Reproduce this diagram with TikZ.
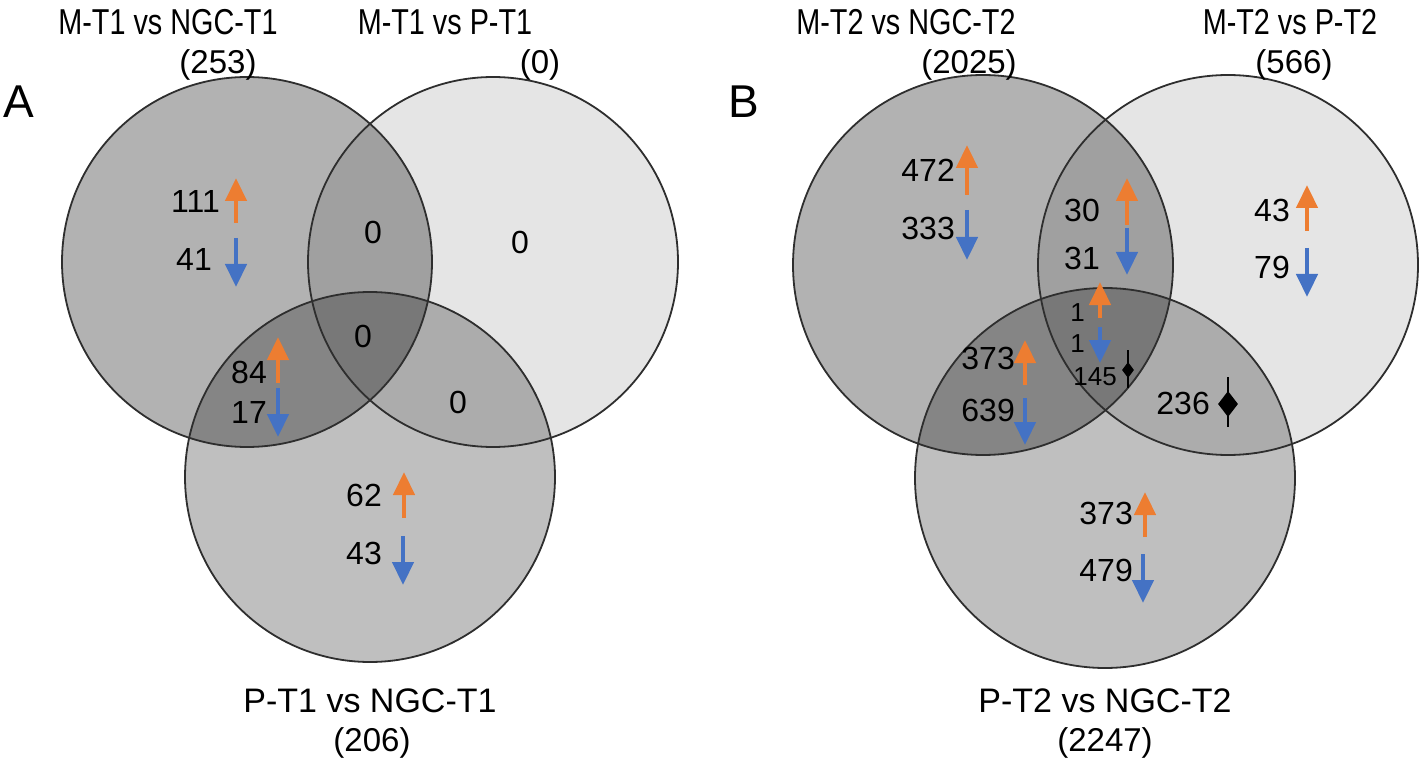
\documentclass[tikz,border=0pt]{standalone}
\usepackage{fontspec}
\setmainfont{Liberation Sans}
\newfontfamily\narrowsans[FakeStretch=0.8]{Liberation Sans}
\usetikzlibrary{arrows.meta,shapes.geometric}
\definecolor{upc}{HTML}{ED7D31}
\definecolor{dnc}{HTML}{4472C4}
\definecolor{ringc}{HTML}{2E2E2E}
\begin{document}
\begin{tikzpicture}[x=1pt,y=-1pt,
  lbl/.style={font=\fontsize{32}{34}\selectfont, inner sep=0pt, anchor=east},
  sml/.style={font=\fontsize{26}{28}\selectfont, inner sep=0pt, anchor=east},
  ttl/.style={font=\narrowsans\fontsize{36}{38}\selectfont, inner sep=0pt, anchor=base},
  cnt/.style={font=\fontsize{33}{35}\selectfont, inner sep=0pt, anchor=base},
  btl/.style={font=\fontsize{34}{36}\selectfont, inner sep=0pt, anchor=base},
  panel/.style={font=\fontsize{46}{48}\selectfont, inner sep=0pt, anchor=base west},
  zero/.style={font=\fontsize{32}{34}\selectfont, inner sep=0pt},
  uparrow/.style={draw=upc, line width=4.5pt, -{Triangle[width=21pt,length=23pt]}},
  dnarrow/.style={draw=dnc, line width=4.5pt, -{Triangle[width=21pt,length=23pt]}},
  ring/.style={draw=ringc, line width=1.8pt},
  venn/.style={circle, fill=black, inner sep=0pt},
  dmd/.style={diamond, fill=black, inner sep=0pt},
]
\useasboundingbox (0,0) rectangle (1421,759);

% ---------- Panel A ----------
\node[venn, fill opacity=0.30, minimum size=370pt] (a1) at (247,262) {};
\node[venn, fill opacity=0.10, minimum size=370pt] (a2) at (493,262) {};
\node[venn, fill opacity=0.25, minimum size=370pt] (a3) at (370,477) {};
\draw[ring] (a1.center) circle[radius=185];
\draw[ring] (a2.center) circle[radius=185];
\draw[ring] (a3.center) circle[radius=185];

\node[panel] (pA) at (3,118) {A};
\node[ttl] (ta1) at (168,35) {M-T1 vs NGC-T1};
\node[cnt] (na1) at (218,74) {(253)};
\node[ttl] (ta2) at (445,35) {M-T1 vs P-T1};
\node[cnt] (na2) at (540,74) {(0)};
\node[btl] (ta3) at (370,712) {P-T1 vs NGC-T1};
\node[cnt] (na3) at (372,751) {(206)};

\node[lbl] (v111) at (220,201) {111};
\node[lbl] (v41) at (212,259) {41};
\coordinate (au1s) at (236,223); \coordinate (au1e) at (236,178);
\coordinate (ad1s) at (236,238); \coordinate (ad1e) at (236,287);
\draw[uparrow] (au1s) -- (au1e);
\draw[dnarrow] (ad1s) -- (ad1e);

\node[zero] (z12) at (373,232) {0};
\node[zero] (z2) at (520,242) {0};
\node[zero] (z123) at (363,336) {0};
\node[zero] (z23) at (458,402) {0};

\node[lbl] (v84) at (267,372) {84};
\node[lbl] (v17) at (267,412) {17};
\coordinate (au2s) at (278,383); \coordinate (au2e) at (278,337);
\coordinate (ad2s) at (278,388); \coordinate (ad2e) at (278,437);
\draw[uparrow] (au2s) -- (au2e);
\draw[dnarrow] (ad2s) -- (ad2e);

\node[lbl] (v62) at (382,495) {62};
\node[lbl] (v43) at (382,553) {43};
\coordinate (au3s) at (404,518); \coordinate (au3e) at (404,472);
\coordinate (ad3s) at (403,536); \coordinate (ad3e) at (403,585);
\draw[uparrow] (au3s) -- (au3e);
\draw[dnarrow] (ad3s) -- (ad3e);

% ---------- Panel B ----------
\node[venn, fill opacity=0.30, minimum size=380pt] (b1) at (983,265) {};
\node[venn, fill opacity=0.10, minimum size=380pt] (b2) at (1228,265) {};
\node[venn, fill opacity=0.25, minimum size=380pt] (b3) at (1105,478) {};
\draw[ring] (b1.center) circle[radius=190];
\draw[ring] (b2.center) circle[radius=190];
\draw[ring] (b3.center) circle[radius=190];

\node[panel] (pB) at (728,118) {B};
\node[ttl] (tb1) at (906,35) {M-T2 vs NGC-T2};
\node[cnt] (nb1) at (969,74) {(2025)};
\node[ttl] (tb2) at (1290,35) {M-T2 vs P-T2};
\node[cnt] (nb2) at (1294,74) {(566)};
\node[btl] (tb3) at (1105,712) {P-T2 vs NGC-T2};
\node[cnt] (nb3) at (1105,751) {(2247)};

\node[lbl] (w472) at (955,170) {472};
\node[lbl] (w333) at (955,228) {333};
\coordinate (bu1s) at (967,195); \coordinate (bu1e) at (967,145);
\coordinate (bd1s) at (967,210); \coordinate (bd1e) at (967,260);
\draw[uparrow] (bu1s) -- (bu1e);
\draw[dnarrow] (bd1s) -- (bd1e);

\node[lbl] (w30) at (1100,210) {30};
\node[lbl] (w31) at (1100,258) {31};
\coordinate (bu2s) at (1127,225); \coordinate (bu2e) at (1127,178);
\coordinate (bd2s) at (1127,228); \coordinate (bd2e) at (1127,275);
\draw[uparrow] (bu2s) -- (bu2e);
\draw[dnarrow] (bd2s) -- (bd2e);

\node[lbl] (w43) at (1290,210) {43};
\node[lbl] (w79) at (1290,267) {79};
\coordinate (bu3s) at (1307,231); \coordinate (bu3e) at (1307,185);
\coordinate (bd3s) at (1307,248); \coordinate (bd3e) at (1307,297);
\draw[uparrow] (bu3s) -- (bu3e);
\draw[dnarrow] (bd3s) -- (bd3e);

\node[sml] (w1a) at (1085,313) {1};
\node[sml] (w1b) at (1085,344) {1};
\coordinate (bu4s) at (1100,318); \coordinate (bu4e) at (1100,282);
\coordinate (bd4s) at (1100,327); \coordinate (bd4e) at (1100,363);
\draw[uparrow] (bu4s) -- (bu4e);
\draw[dnarrow] (bd4s) -- (bd4e);
\node[sml] (w145) at (1117,377) {145};
\coordinate (l1s) at (1128,350); \coordinate (l1e) at (1128,388);
\draw[line width=2pt] (l1s) -- (l1e);
\node[dmd, minimum width=12pt, minimum height=16pt] (d1) at (1128,370) {};

\node[lbl] (w236) at (1210,403) {236};
\coordinate (l2s) at (1228,377); \coordinate (l2e) at (1228,427);
\draw[line width=2.5pt] (l2s) -- (l2e);
\node[dmd, minimum width=20pt, minimum height=26pt] (d2) at (1228,404) {};

\node[lbl] (w373a) at (1015,358) {373};
\node[lbl] (w639) at (1015,410) {639};
\coordinate (bu5s) at (1025,385); \coordinate (bu5e) at (1025,340);
\coordinate (bd5s) at (1025,398); \coordinate (bd5e) at (1025,445);
\draw[uparrow] (bu5s) -- (bu5e);
\draw[dnarrow] (bd5s) -- (bd5e);

\node[lbl] (w373b) at (1133,513) {373};
\node[lbl] (w479) at (1133,570) {479};
\coordinate (bu6s) at (1145,537); \coordinate (bu6e) at (1145,492);
\coordinate (bd6s) at (1143,554); \coordinate (bd6e) at (1143,603);
\draw[uparrow] (bu6s) -- (bu6e);
\draw[dnarrow] (bd6s) -- (bd6e);
\end{tikzpicture}
\end{document}
